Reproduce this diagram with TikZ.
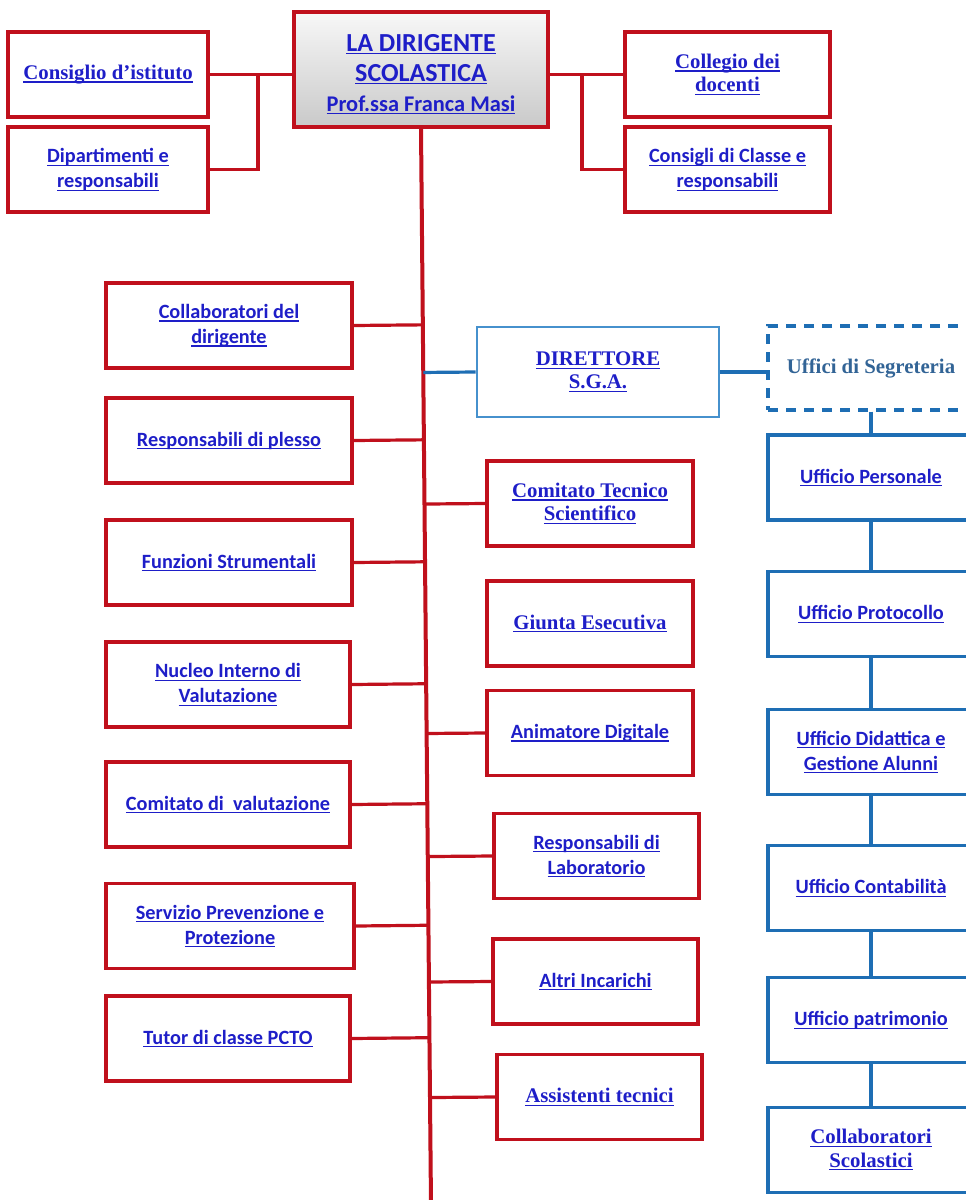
\documentclass[tikz,border=0pt]{standalone}
\usepackage{fontspec}
\usetikzlibrary{calc}
\newfontfamily\carl{Carlito}
\newfontfamily\tnr{Liberation Serif}
\definecolor{dred}{RGB}{192,16,28}
\definecolor{lnkblue}{RGB}{30,30,200}
\definecolor{bline}{RGB}{30,110,180}
\definecolor{dsgablue}{RGB}{70,145,205}
\definecolor{segtext}{RGB}{50,100,150}
\newcommand\lnk[1]{\leavevmode\setbox0=\hbox{#1}\rlap{\copy0}\rule[-2.4pt]{\wd0}{0.9pt}}
\begin{document}
\begin{tikzpicture}[x=0.75pt,y=-0.75pt,
 sf/.style={font=\carl\bfseries\fontsize{15.2}{18.75}\selectfont},
 rm/.style={font=\tnr\bfseries\fontsize{15.6}{17.5}\selectfont},
 box/.style={rectangle, inner sep=0pt, align=center, text=lnkblue, fill=white, minimum height=63.75pt},
 rbox/.style={box, draw=dred, line width=2.6pt},
 ubox/.style={box, draw=bline, line width=2.4pt, minimum width=154.5pt, sf},
 rline/.style={draw=dred, line width=2.4pt},
 bconn/.style={draw=bline, line width=2.4pt},
]
\useasboundingbox (0,0) rectangle (965,1200);
\fill[white] (0,0) rectangle (965,1200);

% ---- top ----
\node[rbox, top color=gray!6, bottom color=gray!42, minimum width=190.5pt, minimum height=86.25pt,
      font=\carl\bfseries\fontsize{19.5}{22.5}\selectfont] (dir) at (421,69.5)
      {\rule{0pt}{20pt}\lnk{LA DIRIGENTE}\\\lnk{SCOLASTICA}\\{\fontsize{16.8}{22.5}\selectfont\lnk{Prof.ssa Franca Masi}}};
\node[rbox, rm, minimum width=150pt] (cons) at (108,74.5) {\lnk{Consiglio d’istituto}};
\node[rbox, sf, minimum width=150pt] (dip) at (108,169.5) {\lnk{Dipartimenti e}\\\lnk{responsabili}};
\node[rbox, rm, minimum width=153.75pt] (coll) at (727.5,74.5) {\lnk{Collegio dei}\\\lnk{docenti}};
\node[rbox, sf, minimum width=153.75pt] (consc) at (727.5,169.5) {\lnk{Consigli di Classe e}\\\lnk{responsabili}};

\coordinate (lj) at (258,74.5);
\coordinate (rj) at (582,74.5);
\draw[rline] (cons.east) -- (cons.east -| dir.west);
\draw[rline] (lj) |- (dip.east);
\draw[rline] (coll.west) -- (coll.west -| dir.east);
\draw[rline] (rj) |- (consc.west);

% ---- trunk ----
\coordinate (tbot) at (431,1205);
\draw[rline, line width=3pt] (dir.south) -- (tbot);

% ---- left column ----
\node[rbox, sf, minimum width=184.5pt] (col)   at (229,325.5) {\lnk{Collaboratori del}\\\lnk{dirigente}};
\node[rbox, sf, minimum width=184.5pt] (resp)  at (229,440.5) {\lnk{Responsabili di plesso}};
\node[rbox, sf, minimum width=184.5pt] (funz)  at (229,562.5) {\lnk{Funzioni Strumentali}};
\node[rbox, sf, minimum width=183pt]   (nucl)  at (228,684.5) {\lnk{Nucleo Interno di}\\\lnk{Valutazione}};
\node[rbox, sf, minimum width=183pt]   (comv)  at (228,804.5) {\lnk{Comitato di\ \ valutazione}};
\node[rbox, sf, minimum width=186pt]   (serv)  at (230,926)   {\lnk{Servizio Prevenzione e}\\\lnk{Protezione}};
\node[rbox, sf, minimum width=183pt]   (tutor) at (228,1038.5){\lnk{Tutor di classe PCTO}};

\foreach \n in {col,resp,funz,nucl,comv,serv,tutor}
  \draw[rline] (\n.east) -- ($(dir.south)!(\n.east)!(tbot)$);

% ---- right red column ----
\node[rbox, rm, minimum width=154.5pt] (cts)    at (590,503.5) {\lnk{Comitato Tecnico}\\\lnk{Scientifico}};
\node[rbox, rm, minimum width=154.5pt] (giunta) at (590,623.5) {\lnk{Giunta Esecutiva}};
\node[rbox, sf, minimum width=154.5pt] (anim)   at (590,733)   {\lnk{Animatore Digitale}};
\node[rbox, sf, minimum width=153.75pt] (rlab)  at (596.5,856) {\lnk{Responsabili di}\\\lnk{Laboratorio}};
\node[rbox, sf, minimum width=153.75pt] (altri) at (595.5,981.5) {\lnk{Altri Incarichi}};
\node[rbox, rm, minimum width=153.75pt] (assist) at (599.5,1097) {\lnk{Assistenti tecnici}};

\foreach \n in {cts,anim,rlab,altri,assist}
  \draw[rline] (\n.west) -- ($(dir.south)!(\n.west)!(tbot)$);

% ---- blue part ----
\node[box, draw=dsgablue, line width=2.1pt, rm, minimum width=181.5pt, minimum height=67.5pt] (dsga) at (598,372)
      {\lnk{DIRETTORE}\\\lnk{S.G.A.}};
\node[box, draw=bline, line width=2.4pt, dash pattern=on 7.5pt off 6pt, minimum width=154.5pt, minimum height=63pt,
      rm, text=segtext] (seg) at (871,368) {Uffici di Segreteria};
\draw[bconn] (dsga.west) -- ($(dir.south)!(dsga.west)!(tbot)$);
\draw[bconn] (dsga.east) -- (dsga.east -| seg.west);

\node[ubox] (pers)   at (871,477.5) {\lnk{Ufficio Personale}};
\node[ubox] (prot)   at (871,614)   {\lnk{Ufficio Protocollo}};
\node[ubox] (did)    at (871,752)   {\lnk{Ufficio Didattica e}\\\lnk{Gestione Alunni}};
\node[ubox] (cont)   at (871,888)   {\lnk{Ufficio Contabilità}};
\node[ubox] (patr)   at (871,1020)  {\lnk{Ufficio patrimonio}};
\node[ubox, rm] (collsc) at (871,1150) {\lnk{Collaboratori}\\\lnk{Scolastici}};

\draw[bconn] (seg.south) -- (pers.north);
\draw[bconn] (pers.south) -- (prot.north);
\draw[bconn] (prot.south) -- (did.north);
\draw[bconn] (did.south) -- (cont.north);
\draw[bconn] (cont.south) -- (patr.north);
\draw[bconn] (patr.south) -- (collsc.north);
\end{tikzpicture}
\end{document}
